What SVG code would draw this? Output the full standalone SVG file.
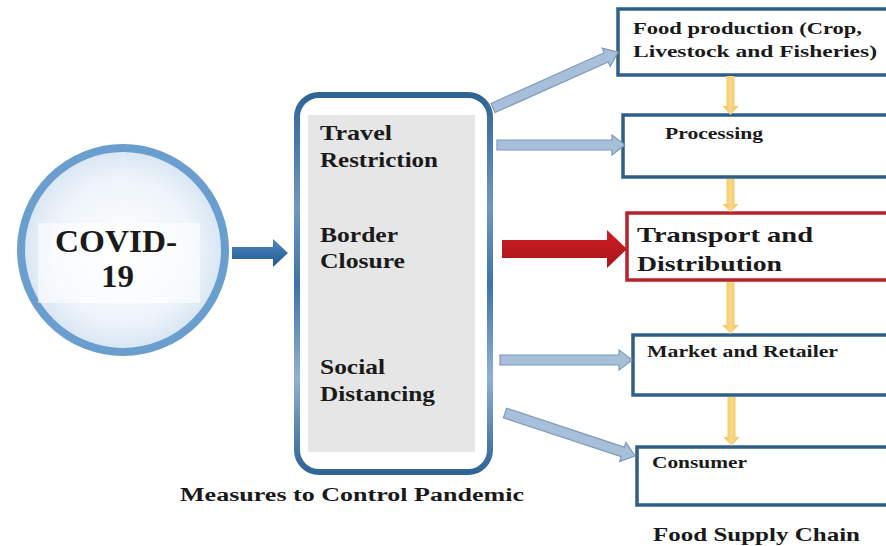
<svg xmlns="http://www.w3.org/2000/svg" width="886" height="546" viewBox="0 0 886 546">
<defs>
<radialGradient id="cg" cx="0.5" cy="0.5" r="0.5">
<stop offset="0" stop-color="#ffffff"/>
<stop offset="0.7" stop-color="#eef4fa"/>
<stop offset="1" stop-color="#d6e5f3"/>
</radialGradient>
<linearGradient id="mg" x1="0" y1="0" x2="0" y2="1">
<stop offset="0" stop-color="#2f6496"/>
<stop offset="0.3" stop-color="#6f98c2"/>
<stop offset="0.5" stop-color="#3d73a8"/>
<stop offset="0.75" stop-color="#8fb1d3"/>
<stop offset="1" stop-color="#2f6496"/>
</linearGradient>
<linearGradient id="bg" x1="0" y1="0" x2="0" y2="1">
<stop offset="0" stop-color="#4f86bd"/>
<stop offset="1" stop-color="#1f5a90"/>
</linearGradient>
<linearGradient id="yg" x1="0" y1="0" x2="1" y2="0">
<stop offset="0" stop-color="#f2bd45"/>
<stop offset="0.5" stop-color="#fad98a"/>
<stop offset="1" stop-color="#f2bd45"/>
</linearGradient>
<linearGradient id="rg" x1="0" y1="0" x2="0" y2="1">
<stop offset="0" stop-color="#d01f26"/>
<stop offset="1" stop-color="#a8141a"/>
</linearGradient>
</defs>
<style>
text{font-family:"Liberation Serif","Times New Roman",serif;font-weight:bold;fill:#1a1a1a}
.box{fill:#ffffff;stroke:#2f5f86;stroke-width:3.5}
.rbox{fill:#ffffff;stroke:#b8222a;stroke-width:3.5}
.ga{fill:#a7bfd8;stroke:#7d9cbd;stroke-width:1.2}
.ya{fill:url(#yg)}
.m{font-size:21px}
.b{font-size:17px}
</style>
<rect width="886" height="546" fill="#ffffff"/>

<g id="covid">
<circle cx="123" cy="250" r="102" fill="url(#cg)" stroke="#6a9ecf" stroke-width="8"/>
<rect x="38" y="223" width="162" height="80" fill="#ffffff" opacity="0.6"/>
<text x="55" y="252" style="font-size:31px" textLength="122" lengthAdjust="spacingAndGlyphs">COVID-</text>
<text x="101" y="287" style="font-size:31px" textLength="33" lengthAdjust="spacingAndGlyphs">19</text>
</g>

<g id="measures">
<rect x="297" y="95" width="193" height="377" rx="22" ry="22" fill="#ffffff" stroke="url(#mg)" stroke-width="6"/>
<rect x="308" y="115" width="167" height="337" fill="#e6e6e6"/>
<text class="m" x="320" y="140" textLength="72" lengthAdjust="spacingAndGlyphs">Travel</text>
<text class="m" x="320" y="167" textLength="118" lengthAdjust="spacingAndGlyphs">Restriction</text>
<text class="m" x="320" y="242" textLength="78" lengthAdjust="spacingAndGlyphs">Border</text>
<text class="m" x="320" y="268" textLength="85" lengthAdjust="spacingAndGlyphs">Closure</text>
<text class="m" x="320" y="374" textLength="65" lengthAdjust="spacingAndGlyphs">Social</text>
<text class="m" x="320" y="401" textLength="115" lengthAdjust="spacingAndGlyphs">Distancing</text>
<text x="180" y="501" style="font-size:18px" textLength="344" lengthAdjust="spacingAndGlyphs">Measures to Control Pandemic</text>
</g>

<g id="food-production">
<rect class="box" x="618" y="9" width="272" height="66"/>
<text class="b" x="633" y="34" textLength="229" lengthAdjust="spacingAndGlyphs">Food production (Crop,</text>
<text class="b" x="633" y="57" textLength="244" lengthAdjust="spacingAndGlyphs">Livestock and Fisheries)</text>
</g>

<g id="processing">
<rect class="box" x="623" y="115" width="267" height="62"/>
<text class="b" x="665" y="139" textLength="98" lengthAdjust="spacingAndGlyphs">Processing</text>
</g>

<g id="transport">
<rect class="rbox" x="627" y="213" width="263" height="67"/>
<text x="637" y="242" style="font-size:22px" textLength="176" lengthAdjust="spacingAndGlyphs">Transport  and</text>
<text x="637" y="271" style="font-size:22px" textLength="145" lengthAdjust="spacingAndGlyphs">Distribution</text>
</g>

<g id="market">
<rect class="box" x="633" y="335" width="257" height="60"/>
<text class="b" x="647" y="357" textLength="191" lengthAdjust="spacingAndGlyphs">Market and Retailer</text>
</g>

<g id="consumer">
<rect class="box" x="637" y="447" width="253" height="58"/>
<text class="b" x="652" y="468" textLength="95" lengthAdjust="spacingAndGlyphs">Consumer</text>
<text x="653" y="541" style="font-size:19px" textLength="207" lengthAdjust="spacingAndGlyphs">Food Supply Chain</text>
</g>

<g id="connectors">
<path d="M232,247 H273 V239 L288,253 L273,267 V259 H232 Z" fill="url(#bg)"/>
<path class="ga" d="M0,-5 H124 V-10 L137,0 L124,10 V5 H0 Z" transform="translate(493,108) rotate(-24.1)"/>
<path class="ga" d="M497,140 H612 V135 L625,145 L612,155 V150 H497 Z"/>
<path d="M502,240 H607 V230 L627,249 L607,268 V258 H502 Z" fill="url(#rg)"/>
<path class="ga" d="M500,355 H619 V350 L632,360 L619,370 V365 H500 Z"/>
<path class="ga" d="M0,-5 H124 V-10 L137,0 L124,10 V5 H0 Z" transform="translate(505,413) rotate(18.3)"/>
<path class="ya" d="M726.5,76 H734.5 V106 H738.5 L730.5,115 L722.5,106 H726.5 Z"/>
<path class="ya" d="M726.5,179 H734.5 V204 H738.5 L730.5,212 L722.5,204 H726.5 Z"/>
<path class="ya" d="M726.5,282 H734.5 V325 H738.5 L730.5,334 L722.5,325 H726.5 Z"/>
<path class="ya" d="M727.5,397 H735.5 V437 H739.5 L731.5,446 L723.5,437 H727.5 Z"/>
</g>
</svg>
